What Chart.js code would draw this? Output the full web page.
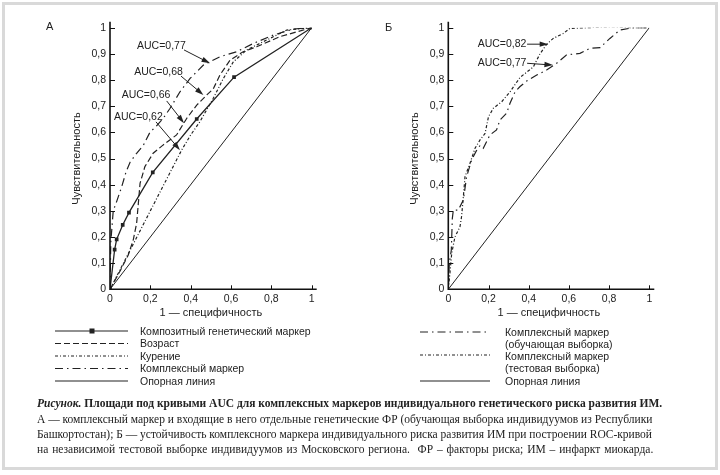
<!DOCTYPE html>
<html>
<head>
<meta charset="utf-8">
<script src="https://cdn.jsdelivr.net/npm/chart.js@4/dist/chart.umd.min.js"></script>
<style>
body { margin: 0; background: #fff; width: 720px; height: 475px; position: relative; overflow: hidden;
       font-family: "Liberation Sans", Arial, sans-serif; color: #222; }
#frame { position: absolute; left: 2px; top: 2px; width: 710px; height: 462px; border: 3px solid #d9d9d9; }
canvas { position: absolute; top: 0; }
#chartA { left: 0; }
#chartB { left: 340px; }
.letter { position: absolute; font-size: 11px; }
.leg { position: absolute; font-size: 10.5px; line-height: 12.5px; white-space: nowrap; }
.cap { position: absolute; left: 37px; font-family: "Liberation Serif", "Times New Roman", serif; white-space: nowrap; color: #222; }
svg { position: absolute; left: 0; top: 0; }
</style>
</head>
<body>
<div id="frame"></div>
<canvas id="chartA" width="340" height="325"></canvas>
<canvas id="chartB" width="340" height="325"></canvas>
<div class="letter" style="left:46px;top:20px">А</div>
<div class="letter" style="left:385px;top:21px">Б</div>

<svg width="720" height="475">
  <g stroke="#222" fill="none" stroke-width="1.2">
    <line x1="55" y1="331" x2="128" y2="331"/>
    <line x1="55" y1="343.5" x2="128" y2="343.5" stroke-dasharray="6 3"/>
    <line x1="55" y1="356" x2="128" y2="356" stroke-dasharray="3 2 1 2"/>
    <line x1="55" y1="368.5" x2="128" y2="368.5" stroke-dasharray="8 4 1.5 4"/>
    <line x1="55" y1="381" x2="128" y2="381"/>
    <line x1="420" y1="332" x2="490" y2="332" stroke-dasharray="8 4 1.5 4"/>
    <line x1="420" y1="355" x2="490" y2="355" stroke-dasharray="3 2 1 2"/>
    <line x1="420" y1="381" x2="490" y2="381"/>
  </g>
  <rect x="89.5" y="328.5" width="5" height="5" fill="#222"/>
</svg>
<div class="leg" style="left:140px;top:324.5px">Композитный генетический маркер</div>
<div class="leg" style="left:140px;top:337px">Возраст</div>
<div class="leg" style="left:140px;top:349.5px">Курение</div>
<div class="leg" style="left:140px;top:362px">Комплексный маркер</div>
<div class="leg" style="left:140px;top:374.5px">Опорная линия</div>
<div class="leg" style="left:505px;top:325.5px">Комплексный маркер</div>
<div class="leg" style="left:505px;top:337.5px">(обучающая выборка)</div>
<div class="leg" style="left:505px;top:349.5px">Комплексный маркер</div>
<div class="leg" style="left:505px;top:362px">(тестовая выборка)</div>
<div class="leg" style="left:505px;top:374.5px">Опорная линия</div>

<div class="cap" style="top:396.5px;font-size:11.5px;font-weight:bold"><i>Рисунок.</i> Площади под кривыми AUC для комплексных маркеров индивидуального генетического риска развития ИМ.</div>
<div class="cap" style="top:413px;font-size:11.5px">А — комплексный маркер и входящие в него отдельные генетические ФР (обучающая выборка индивидуумов из Республики</div>
<div class="cap" style="top:428px;font-size:11.5px">Башкортостан); Б — устойчивость комплексного маркера индивидуального риска развития ИМ при построении ROC-кривой</div>
<div class="cap" style="top:443px;font-size:11.5px;word-spacing:1px">на независимой тестовой выборке индивидуумов из Московского региона.&nbsp; ФР – факторы риска; ИМ – инфаркт миокарда.</div>

<script>
// tick labels (Russian decimal comma)
const xTickLabels = ['0', '0,2', '0,4', '0,6', '0,8', '1'];
const yTickLabels = ['0', '0,1', '0,2', '0,3', '0,4', '0,5', '0,6', '0,7', '0,8', '0,9', '1'];

// panel A
const compositeX = [0, 0.023, 0.033, 0.063, 0.094, 0.212, 0.43, 0.615, 1];
const compositeY = [0, 0.152, 0.191, 0.246, 0.293, 0.447, 0.651, 0.811, 1];
const ageX = [0, 0.05, 0.09, 0.115, 0.132, 0.149, 0.173, 0.214, 0.264, 0.33, 0.38, 0.43, 0.48, 0.512, 0.545, 0.595, 0.66, 0.727, 0.843, 1];
const ageY = [0, 0.07, 0.13, 0.188, 0.252, 0.405, 0.469, 0.52, 0.552, 0.59, 0.653, 0.704, 0.743, 0.766, 0.819, 0.876, 0.908, 0.927, 0.966, 1];
const smokingX = [0, 0.1, 0.2, 0.355, 0.4, 0.446, 0.512, 0.562, 0.612, 0.678, 0.777, 0.876, 1];
const smokingY = [0, 0.15, 0.3, 0.532, 0.59, 0.641, 0.73, 0.806, 0.87, 0.915, 0.953, 0.991, 1];
const complexX = [0, 0.004, 0.016, 0.035, 0.058, 0.08, 0.099, 0.132, 0.165, 0.198, 0.231, 0.265, 0.298, 0.347, 0.397, 0.463, 0.545, 0.628, 0.711, 0.81, 0.909, 1];
const complexY = [0, 0.18, 0.3, 0.34, 0.392, 0.45, 0.485, 0.52, 0.55, 0.6, 0.625, 0.655, 0.692, 0.755, 0.806, 0.857, 0.889, 0.908, 0.94, 0.972, 0.995, 1];

// panel B
const trainX = [0, 0.005, 0.015, 0.02, 0.025, 0.05, 0.075, 0.091, 0.116, 0.14, 0.158, 0.174, 0.207, 0.24, 0.257, 0.29, 0.307, 0.332, 0.357, 0.39, 0.44, 0.489, 0.539, 0.589, 0.655, 0.705, 0.755, 0.804, 0.854, 0.92, 1];
const trainY = [0, 0.1, 0.15, 0.27, 0.303, 0.303, 0.342, 0.43, 0.494, 0.53, 0.55, 0.539, 0.59, 0.609, 0.647, 0.673, 0.711, 0.755, 0.775, 0.796, 0.819, 0.838, 0.864, 0.896, 0.902, 0.921, 0.924, 0.959, 0.991, 1, 1];
const testX = [0, 0.004, 0.008, 0.017, 0.033, 0.058, 0.066, 0.075, 0.083, 0.108, 0.133, 0.158, 0.183, 0.2, 0.224, 0.266, 0.307, 0.357, 0.39, 0.423, 0.456, 0.489, 0.522, 0.572, 0.605, 0.688, 0.821, 0.92, 1];
const testY = [0, 0.03, 0.061, 0.138, 0.2, 0.239, 0.278, 0.354, 0.43, 0.482, 0.539, 0.571, 0.596, 0.66, 0.692, 0.717, 0.755, 0.81, 0.83, 0.85, 0.9, 0.936, 0.959, 0.978, 0.997, 1, 1.003, 1, 1];

const refX = [0, 1];
const refY = [0, 1];

const ink = '#222';
const fontFamily = '"Liberation Sans", Arial, sans-serif';

function series(xs, ys) {
    return xs.map((v, i) => ({ x: v, y: ys[i] }));
}

function line(data, dash, extra) {
    return Object.assign({
        data: data,
        showLine: true,
        borderColor: ink,
        borderWidth: 1.2,
        borderDash: dash,
        pointRadius: 0,
        tension: 0
    }, extra || {});
}

// axes with inward ticks, AUC labels with arrows
const rocAxes = {
    id: 'rocAxes',
    afterDatasetsDraw(chart, args, opts) {
        const { ctx, chartArea: a, scales: { x, y } } = chart;
        ctx.save();
        ctx.strokeStyle = '#111';
        ctx.lineWidth = 1.6;
        ctx.beginPath();
        ctx.moveTo(a.left, a.top - 6);
        ctx.lineTo(a.left, a.bottom);
        ctx.lineTo(a.right + 5, a.bottom);
        ctx.stroke();

        ctx.lineWidth = 1;
        ctx.beginPath();
        y.ticks.forEach(t => {
            const py = Math.round(y.getPixelForValue(t.value)) + 0.5;
            ctx.moveTo(a.left, py);
            ctx.lineTo(a.left + 5, py);
        });
        x.ticks.forEach(t => {
            if (t.value === 0) return;
            const px = Math.round(x.getPixelForValue(t.value)) + 0.5;
            ctx.moveTo(px, a.bottom);
            ctx.lineTo(px, a.bottom - 4);
        });
        ctx.stroke();

        ctx.fillStyle = ink;
        ctx.strokeStyle = ink;
        ctx.font = '10.5px ' + fontFamily;
        ctx.textBaseline = 'middle';
        ctx.textAlign = 'left';
        (opts.notes || []).forEach(n => {
            ctx.fillText(n.text, x.getPixelForValue(n.tx), y.getPixelForValue(n.ty));
            const x0 = x.getPixelForValue(n.fx), y0 = y.getPixelForValue(n.fy);
            const x1 = x.getPixelForValue(n.ax), y1 = y.getPixelForValue(n.ay);
            const ang = Math.atan2(y1 - y0, x1 - x0);
            const len = 9;
            ctx.lineWidth = 1;
            ctx.beginPath();
            ctx.moveTo(x0, y0);
            ctx.lineTo(x1 - Math.cos(ang) * len * 0.8, y1 - Math.sin(ang) * len * 0.8);
            ctx.stroke();
            ctx.beginPath();
            ctx.moveTo(x1, y1);
            ctx.lineTo(x1 - len * Math.cos(ang - 0.3), y1 - len * Math.sin(ang - 0.3));
            ctx.lineTo(x1 - len * Math.cos(ang + 0.3), y1 - len * Math.sin(ang + 0.3));
            ctx.closePath();
            ctx.fill();
        });
        ctx.restore();
    }
};

function rocOptions(padLeft, padRight, notes) {
    const tickFont = { family: fontFamily, size: 10.5 };
    const titleFont = { family: fontFamily, size: 11 };
    return {
        responsive: false,
        animation: false,
        layout: { padding: { left: padLeft, right: padRight, top: 27.7, bottom: 5.7 } },
        plugins: {
            legend: { display: false },
            tooltip: { enabled: false },
            rocAxes: { notes: notes }
        },
        scales: {
            x: {
                type: 'linear', min: 0, max: 1,
                grid: { display: false, drawTicks: false },
                border: { display: false },
                ticks: { stepSize: 0.2, padding: 4, color: ink, font: tickFont, maxRotation: 0,
                         callback: v => xTickLabels[Math.round(v * 5)] },
                title: { display: true, text: '1 — специфичность', color: ink, font: titleFont, padding: 0 },
                afterFit: s => { s.height = 30; }
            },
            y: {
                type: 'linear', min: 0, max: 1,
                grid: { display: false, drawTicks: false },
                border: { display: false },
                ticks: { stepSize: 0.1, padding: 4, color: ink, font: tickFont, autoSkip: false,
                         callback: v => yTickLabels[Math.round(v * 10)] },
                title: { display: true, text: 'Чувствительность', color: ink, font: titleFont, padding: 0 },
                afterFit: s => { s.width = 40; }
            }
        }
    };
}

new Chart(document.getElementById('chartA'), {
    type: 'scatter',
    data: {
        datasets: [
            line(series(refX, refY), [], { borderWidth: 1 }),
            line(series(smokingX, smokingY), [3, 2, 1, 2]),
            line(series(ageX, ageY), [6, 3]),
            line(series(complexX, complexY), [8, 4, 1.5, 4]),
            line(series(compositeX, compositeY), [], {
                borderWidth: 1.3, pointRadius: 2.6, pointStyle: 'rect',
                pointBackgroundColor: ink, pointBorderColor: ink, pointBorderWidth: 0
            })
        ]
    },
    options: rocOptions(70, 28.3, [
        { text: 'AUC=0,77', tx: 0.134, ty: 0.93, fx: 0.367, fy: 0.915, ax: 0.496, ay: 0.864 },
        { text: 'AUC=0,68', tx: 0.12, ty: 0.832, fx: 0.352, fy: 0.815, ax: 0.463, ay: 0.743 },
        { text: 'AUC=0,66', tx: 0.058, ty: 0.743, fx: 0.281, fy: 0.72, ax: 0.367, ay: 0.635 },
        { text: 'AUC=0,62', tx: 0.02, ty: 0.66, fx: 0.228, fy: 0.64, ax: 0.347, ay: 0.532 }
    ]),
    plugins: [rocAxes]
});

new Chart(document.getElementById('chartB'), {
    type: 'scatter',
    data: {
        datasets: [
            line(series(refX, refY), [], { borderWidth: 1 }),
            line(series(trainX, trainY), [8, 4, 1.5, 4]),
            line(series(testX, testY), [3, 2, 1, 2])
        ]
    },
    options: rocOptions(68.3, 30.7, [
        { text: 'AUC=0,82', tx: 0.146, ty: 0.937, fx: 0.392, fy: 0.937, ax: 0.4975, ay: 0.937 },
        { text: 'AUC=0,77', tx: 0.146, ty: 0.864, fx: 0.392, fy: 0.864, ax: 0.521, ay: 0.857 }
    ]),
    plugins: [rocAxes]
});
</script>
</body>
</html>
